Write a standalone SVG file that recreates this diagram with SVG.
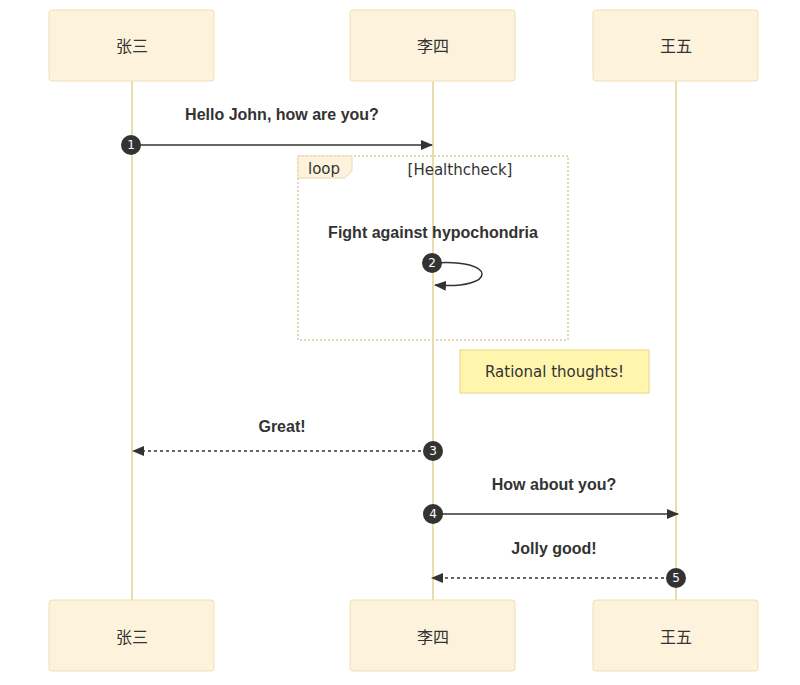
<svg xmlns="http://www.w3.org/2000/svg" width="800" height="685" viewBox="0 0 800 685">
<defs>
<style>
.actor rect{fill:#fdf3dc;stroke:#eedfb6;stroke-width:1}
.actor text{font-family:"Noto Sans CJK SC","DejaVu Sans",sans-serif;font-size:16px;fill:#333;text-anchor:middle;dominant-baseline:central}
.life{stroke:#ebdcb0;stroke-width:2}
.msg{stroke:#333;stroke-width:1.5;fill:none}
.dash{stroke-dasharray:3,3}
.lbl{font-family:"Liberation Sans",Arial,sans-serif;font-weight:bold;font-size:16px;fill:#333;text-anchor:middle}
.num circle{fill:#333}
.num text{font-family:"DejaVu Sans",sans-serif;font-size:12px;fill:#fff;text-anchor:middle;dominant-baseline:central}
.loopt{font-family:"DejaVu Sans",Verdana,sans-serif;font-size:15px;fill:#333}
</style>
<marker id="arr" viewBox="0 0 12 10" refX="11" refY="5" markerWidth="12" markerHeight="10" markerUnits="userSpaceOnUse" orient="auto">
<path d="M0,0 L12,5 L0,10 z" fill="#333"/>
</marker>
</defs>
<rect width="800" height="685" fill="#fff"/>
<g id="lifelines">
<line class="life" x1="132" y1="81" x2="132" y2="600"/>
<line class="life" x1="433" y1="81" x2="433" y2="600"/>
<line class="life" x1="676" y1="81" x2="676" y2="600"/>
</g>
<g id="actor-zhangsan-top" class="actor"><rect x="49" y="10" width="165" height="71" rx="3"/><text x="132" y="45">张三</text></g>
<g id="actor-lisi-top" class="actor"><rect x="350" y="10" width="165" height="71" rx="3"/><text x="433" y="45">李四</text></g>
<g id="actor-wangwu-top" class="actor"><rect x="593" y="10" width="165" height="71" rx="3"/><text x="676" y="45">王五</text></g>
<g id="actor-zhangsan-bottom" class="actor"><rect x="49" y="600" width="165" height="71" rx="3"/><text x="132" y="636">张三</text></g>
<g id="actor-lisi-bottom" class="actor"><rect x="350" y="600" width="165" height="71" rx="3"/><text x="433" y="636">李四</text></g>
<g id="actor-wangwu-bottom" class="actor"><rect x="593" y="600" width="165" height="71" rx="3"/><text x="676" y="636">王五</text></g>
<g id="loop">
<rect x="298" y="156" width="270" height="184" fill="none" stroke="#e4d9b4" stroke-width="2" stroke-dasharray="2,2"/>
<path d="M298,156 H352 V171 L345,178 H298 Z" fill="#fdf3dc" stroke="#e4d9b4" stroke-width="1"/>
<text class="loopt" x="308" y="174">loop</text>
<text class="loopt" x="460" y="175" text-anchor="middle">[Healthcheck]</text>
</g>
<g id="note">
<rect x="460" y="350" width="189" height="43" fill="#fff5ad" stroke="#e6d67e" stroke-width="1"/>
<text class="loopt" x="554.5" y="377" text-anchor="middle">Rational thoughts!</text>
</g>
<g id="connectors">
<text class="lbl" x="282" y="120">Hello John, how are you?</text>
<line class="msg" x1="132" y1="145" x2="432" y2="145" marker-end="url(#arr)"/>
<text class="lbl" x="433" y="238">Fight against hypochondria</text>
<path class="msg" d="M433,263 C498,258 498,290 435,285" marker-end="url(#arr)"/>
<text class="lbl" x="282" y="432">Great!</text>
<line class="msg dash" x1="433" y1="451" x2="133" y2="451" marker-end="url(#arr)"/>
<text class="lbl" x="554" y="490">How about you?</text>
<line class="msg" x1="433" y1="514" x2="678" y2="514" marker-end="url(#arr)"/>
<text class="lbl" x="554" y="554">Jolly good!</text>
<line class="msg dash" x1="676" y1="578" x2="432" y2="578" marker-end="url(#arr)"/>
</g>
<g id="numbers" class="num">
<g><circle cx="131" cy="145" r="10"/><text x="131" y="145">1</text></g>
<g><circle cx="432" cy="263" r="10"/><text x="432" y="263">2</text></g>
<g><circle cx="433" cy="451" r="10"/><text x="433" y="451">3</text></g>
<g><circle cx="433" cy="514" r="10"/><text x="433" y="514">4</text></g>
<g><circle cx="676" cy="578" r="10"/><text x="676" y="578">5</text></g>
</g>
</svg>
